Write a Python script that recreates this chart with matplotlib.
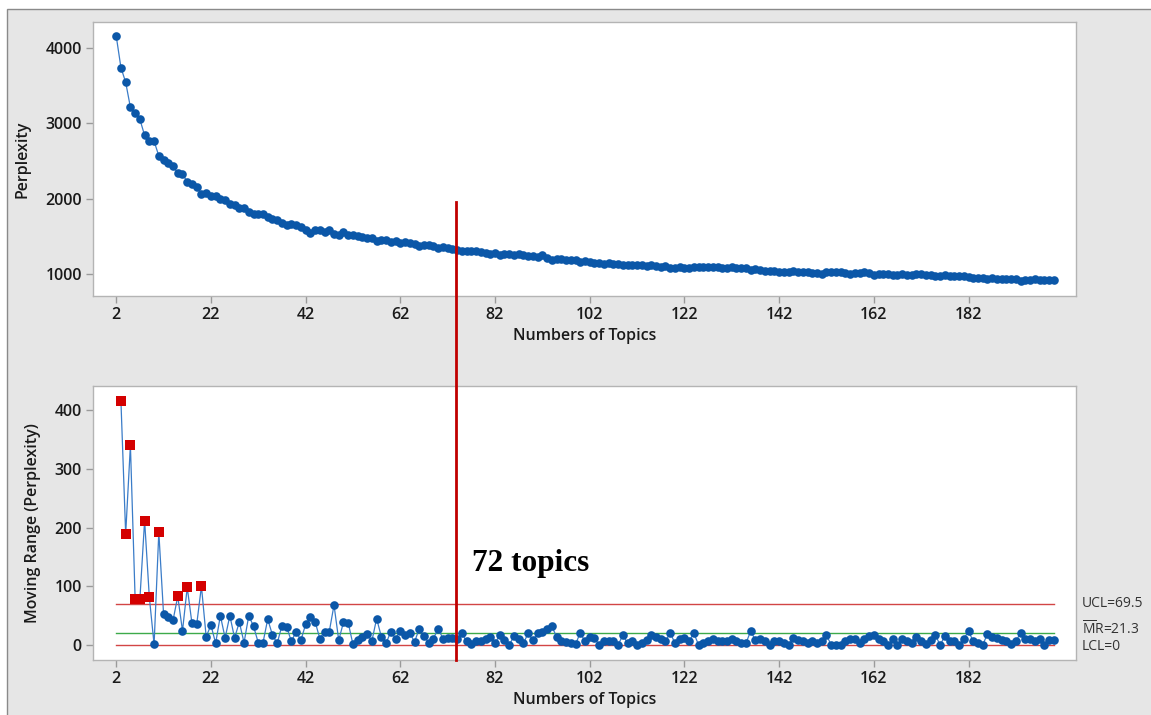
import matplotlib
matplotlib.use("Agg")
import matplotlib.pyplot as plt
from matplotlib.lines import Line2D
from matplotlib.patches import Rectangle
from matplotlib.transforms import blended_transform_factory

plt.rcParams['font.family'] = ['Open Sans', 'DejaVu Sans']
plt.rcParams['mathtext.fontset'] = 'custom'
plt.rcParams['mathtext.rm'] = 'Open Sans'

# ---------------- data ----------------
topics = list(range(2, 201))
perplexity = [
    4160, 3740, 3545, 3212, 3132, 3053, 2840, 2765, 2763, 2568,
    2515, 2468, 2428, 2340, 2325, 2225, 2192, 2158, 2057, 2070,
    2038, 2042, 1992, 1978, 1935, 1910, 1880, 1870, 1827, 1792,
    1795, 1792, 1750, 1732, 1720, 1683, 1651, 1668, 1646, 1620,
    1590, 1548, 1590, 1580, 1560, 1588, 1528, 1520, 1555, 1516,
    1515, 1507, 1493, 1475, 1482, 1437, 1451, 1448, 1425, 1436, 1412,
    1429, 1408, 1403, 1375, 1390, 1386, 1375, 1347, 1358, 1346, 1334, 1324,
    1304, 1310, 1308, 1302, 1295, 1284, 1270, 1273, 1256, 1264, 1264, 1249,
    1260, 1257, 1237, 1245, 1225, 1247, 1219, 1187, 1201, 1194, 1189, 1185,
    1184, 1163, 1169, 1155,
    1143, 1143, 1137, 1144, 1138, 1138, 1121, 1124, 1117, 1117, 1114, 1106,
    1123, 1109, 1098, 1104, 1083, 1086, 1096, 1084,
    1077, 1097, 1097, 1094, 1087, 1098, 1092, 1085, 1079, 1089, 1083, 1079,
    1076, 1052, 1060, 1050, 1044, 1044, 1038, 1031,
    1027, 1027, 1039, 1031, 1025, 1021, 1014, 1011, 1005, 1022, 1022, 1022,
    1022, 1016, 1006, 1017, 1013, 1024, 1009, 992,
    1003, 996, 996, 986, 986, 997, 990, 987, 1001, 994, 993, 985,
    968, 968, 983, 976, 970, 970, 980, 956,
    950, 953, 953, 934, 948, 936, 928, 935, 934, 928, 907, 917,
    927, 934, 923, 923, 915, 923,
]

mr_topics = list(range(3, 201))
moving_range = [
    415, 189, 340, 78, 78, 212, 81, 1, 192, 53, 48, 42, 83, 24, 98, 37, 35, 100,
    14, 34, 3, 50, 12, 50, 12, 39, 4, 50, 32, 4, 4, 44, 17, 3, 33, 31, 6, 23, 8,
    35, 47, 40, 11, 23, 23, 68, 8, 39, 38,
    1, 8, 14, 18, 7, 45, 14, 3, 23, 11, 24, 17, 21, 5, 28, 15, 4, 11, 28, 11,
    12, 12, 10, 20, 6, 2, 6, 7, 11, 14, 3, 17, 8, 0, 15, 11, 3, 20, 8, 20, 22,
    28, 32, 14, 7, 5, 4, 1, 21, 6,
    14, 12, 0, 6, 7, 6, 0, 17, 3, 7, 0, 3, 8, 17, 14, 11, 6, 21, 3, 10, 12, 7,
    20, 0, 3, 7, 11, 6, 7, 6, 10, 6, 4, 3, 24, 8, 10, 6, 0, 6, 7, 4, 0, 12, 8,
    6, 4, 7, 3, 6, 17,
    0, 0, 0, 6, 10, 11, 4, 11, 15, 17, 11, 7, 0, 10, 0, 11, 7, 3, 14, 7, 1, 8,
    17, 0, 15, 7, 6, 0, 10, 24, 6, 3, 0, 19, 14, 12, 8, 7, 1, 6, 21, 10, 10, 7,
    11, 0, 8, 8,
]

ucl = 69.5
mr_bar = 21.3
lcl = 0.0
x_ticks = list(range(2, 183, 20))
marked_topic = 73.7
annotation = "72 topics"

# ---------------- styling ----------------
W, H = 1151, 715
fig = plt.figure(figsize=(W / 100, H / 100), dpi=100, facecolor='white')
fig.add_artist(Rectangle((7 / W, -0.01), 1.0, 1 - 9 / H + 0.01, transform=fig.transFigure,
                         facecolor='#e6e6e6', edgecolor='#8a8a8a', linewidth=1.0, zorder=-10))

ax1 = fig.add_axes([93 / W, 1 - 296 / H, 983 / W, 274 / H])
ax2 = fig.add_axes([93 / W, 1 - 660 / H, 983 / W, 274 / H])

blue = '#0b57a8'
line_blue = '#3a7cc8'
tick_color = '#1a1a1a'

for ax in (ax1, ax2):
    ax.set_facecolor('white')
    for s in ax.spines.values():
        s.set_color('#b4b4b4')
        s.set_linewidth(1.0)
    ax.set_xlim(-2.9, 204.7)
    ax.set_xticks(x_ticks)
    ax.tick_params(axis='both', direction='out', length=5, width=1, color='#9a9a9a',
                   labelsize=11.5, labelcolor=tick_color, pad=3)
    for lab in ax.get_xticklabels() + ax.get_yticklabels():
        lab.set_fontweight('semibold')

# top panel
ax1.plot(topics, perplexity, color=line_blue, linewidth=0.9, zorder=2)
ax1.plot(topics, perplexity, linestyle='none', marker='o', markersize=6.2,
         color=blue, markeredgewidth=0, zorder=3)
ax1.set_ylim(708, 4345)
ax1.set_yticks([1000, 2000, 3000, 4000])
ax1.set_xlabel('Numbers of Topics', fontsize=11.5, fontweight='semibold', color=tick_color)
ax1.set_ylabel('Perplexity', fontsize=11.5, fontweight='semibold', color=tick_color)
ax1.xaxis.set_label_coords(0.5, -0.116)
ax1.yaxis.set_label_coords(-0.064, 0.5)

# bottom panel
ax2.plot([topics[0], topics[-1]], [ucl, ucl], color='#d24545', linewidth=1.0, zorder=1)
ax2.plot([topics[0], topics[-1]], [lcl, lcl], color='#d24545', linewidth=1.0, zorder=1)
ax2.plot([topics[0], topics[-1]], [mr_bar, mr_bar], color='#3daa4a', linewidth=1.0, zorder=1)
ax2.plot(mr_topics, moving_range, color=line_blue, linewidth=0.9, zorder=2)
ok_x = [t for t, v in zip(mr_topics, moving_range) if v <= ucl]
ok_y = [v for v in moving_range if v <= ucl]
bad_x = [t for t, v in zip(mr_topics, moving_range) if v > ucl]
bad_y = [v for v in moving_range if v > ucl]
ax2.plot(ok_x, ok_y, linestyle='none', marker='o', markersize=6.2, color=blue,
         markeredgewidth=0, zorder=3)
ax2.plot(bad_x, bad_y, linestyle='none', marker='s', markersize=7.4, color='#d40000',
         markeredgewidth=0, zorder=4)
ax2.set_ylim(-25.5, 441)
ax2.set_yticks([0, 100, 200, 300, 400])
ax2.set_xlabel('Numbers of Topics', fontsize=11.5, fontweight='semibold', color=tick_color)
ax2.set_ylabel('Moving Range (Perplexity)', fontsize=11.5, fontweight='semibold', color=tick_color)
ax2.xaxis.set_label_coords(0.5, -0.116)
ax2.yaxis.set_label_coords(-0.053, 0.5)

# limit labels
tr = blended_transform_factory(fig.transFigure, ax2.transData)
lab_kw = dict(transform=tr, fontsize=10, color='#333333', ha='left', va='center')
fig.text(1082 / W, ucl + 1, 'UCL=69.5', **lab_kw)
fig.text(1082 / W, mr_bar + 5, r'$\overline{\mathrm{M}}$R=21.3', **lab_kw)
fig.text(1082 / W, lcl - 2, 'LCL=0', **lab_kw)

# marker line across both panels
trv = blended_transform_factory(ax1.transData, fig.transFigure)
fig.add_artist(Line2D([marked_topic, marked_topic], [1 - 202 / H, 1 - 660 / H],
                      transform=trv, color='#c00000', linewidth=2.0, zorder=20))
ax2.text(77.2, 139, annotation, fontsize=22.5, fontweight='bold',
         family=['Liberation Serif', 'DejaVu Serif'], color='black',
         ha='left', va='center')

fig.savefig('out.png', dpi=100, facecolor=fig.get_facecolor())
